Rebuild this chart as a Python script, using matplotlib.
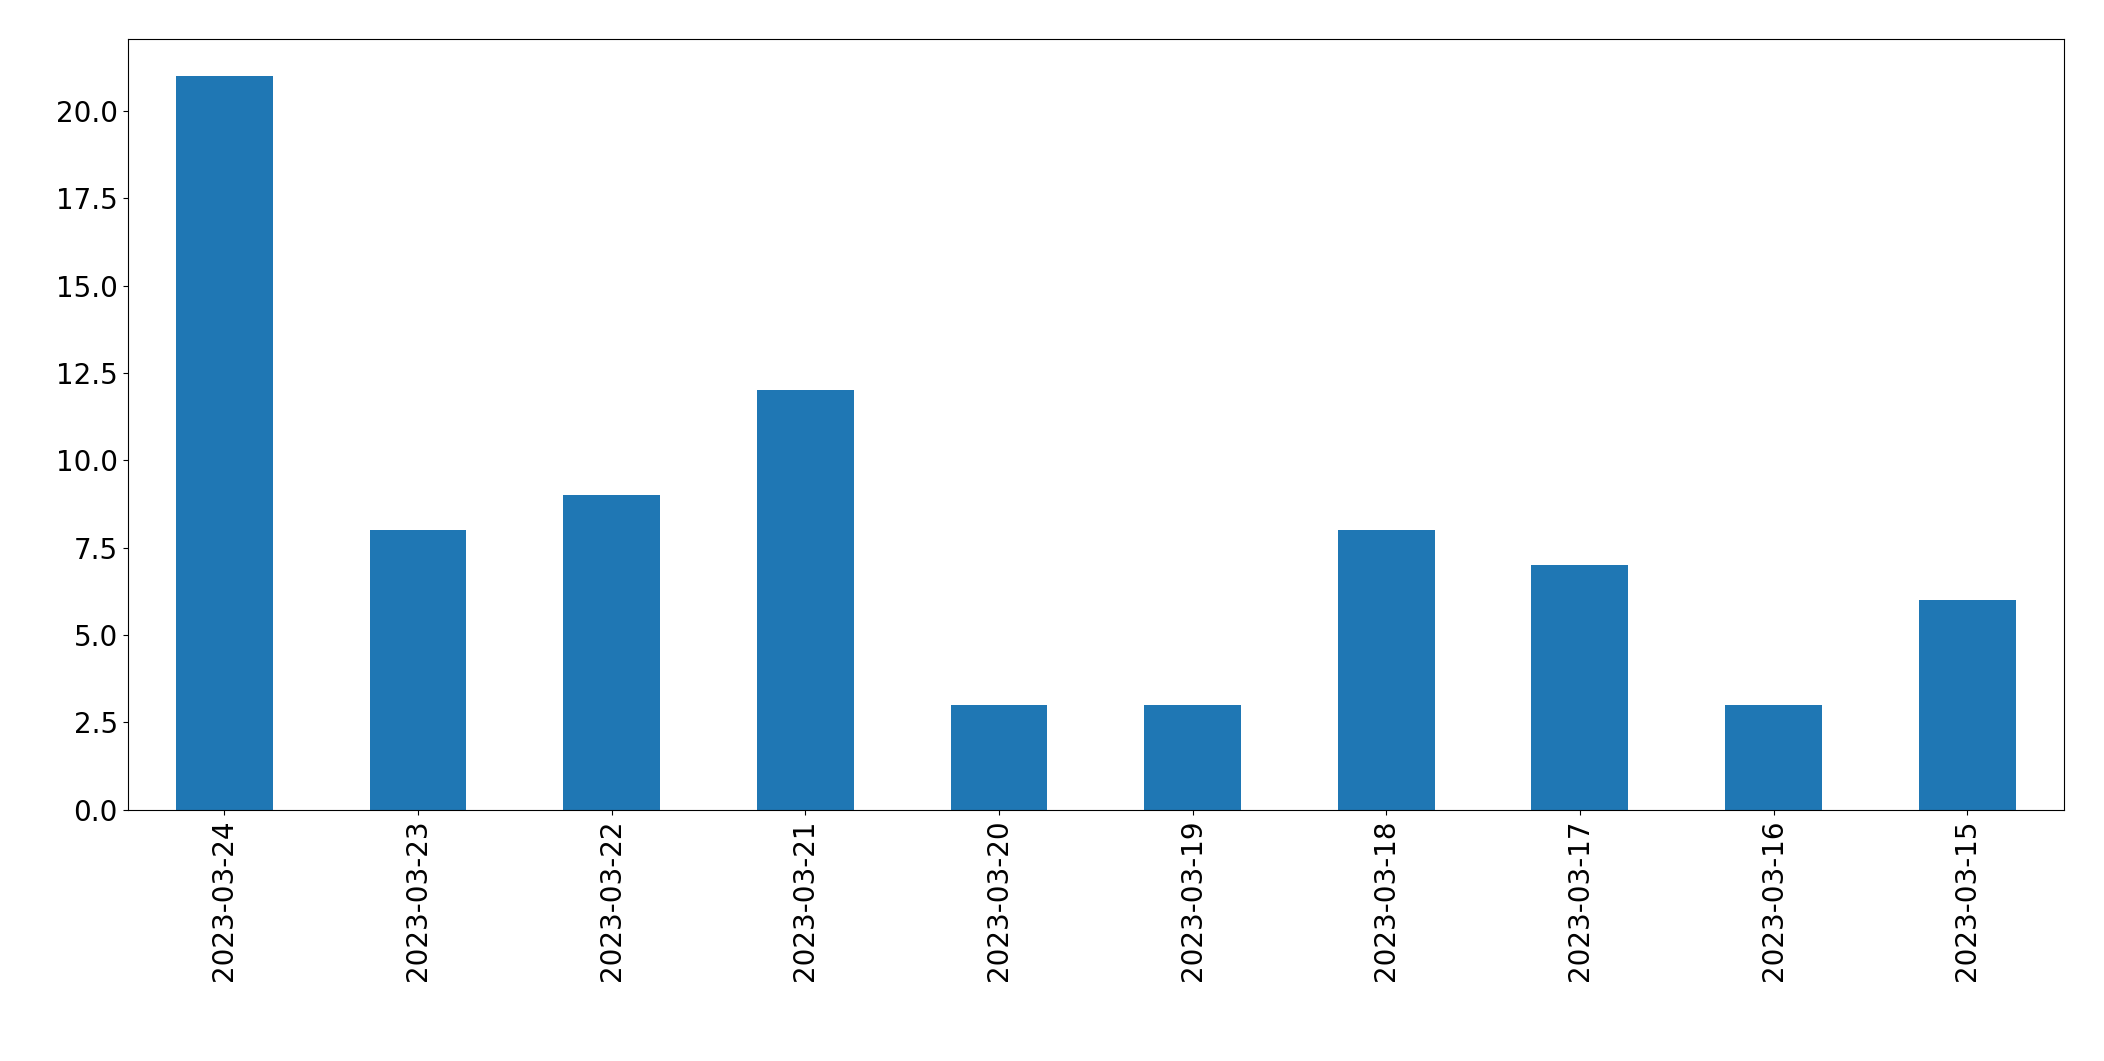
import matplotlib
matplotlib.use("Agg")
import matplotlib.pyplot as plt

dates = ["2023-03-24","2023-03-23","2023-03-22","2023-03-21","2023-03-20",
         "2023-03-19","2023-03-18","2023-03-17","2023-03-16","2023-03-15"]
counts = [21, 8, 9, 12, 3, 3, 8, 7, 3, 6]

fig = plt.figure(figsize=(21.04, 10.61), dpi=100)
ax = fig.add_axes([0.0606, 0.237, 0.9204, 0.726])
x = range(len(dates))
ax.bar(x, counts, width=0.5, color="#1f77b4")
ax.set_xticks(list(x))
ax.set_xticklabels(dates, rotation=90, fontsize=20)
ax.tick_params(axis="y", labelsize=20)
ax.set_xlim(-0.25 - 0.25, len(dates) - 0.5)
ax.set_ylim(0, 22.05)
fig.savefig("out.png", dpi=100)
